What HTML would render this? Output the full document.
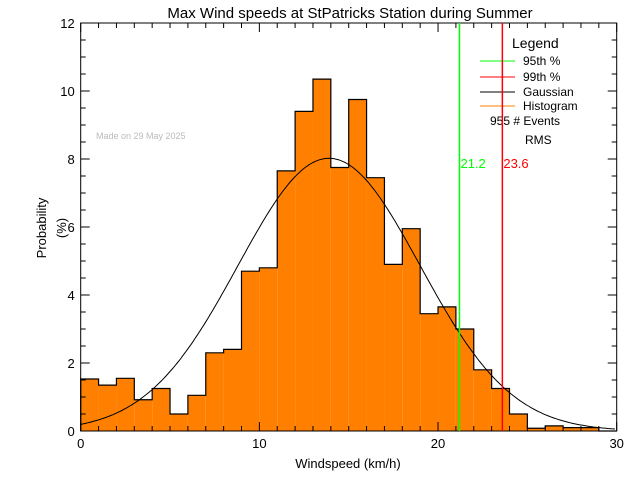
<!DOCTYPE html>
<html><head><meta charset="utf-8"><style>
html,body{margin:0;padding:0;background:#fff}
svg{display:block;font-family:"Liberation Sans",sans-serif}
</style></head><body>
<svg id="c" width="640" height="480" xmlns="http://www.w3.org/2000/svg">
<rect width="640" height="480" fill="#fff"/>
<text x="350" y="18" font-size="15" text-anchor="middle">Max Wind speeds at StPatricks Station during Summer</text>
<g id="bars"></g>
<g id="gauss"></g>
<g id="axes"></g>
<text x="96" y="139" font-size="9" fill="#bbb">Made on 29 May 2025</text>
<text x="348" y="468" font-size="13" text-anchor="middle">Windspeed (km/h)</text>
<text transform="translate(46,228) rotate(-90)" font-size="13" text-anchor="middle">Probability</text>
<text transform="translate(66,228) rotate(-90)" font-size="13" text-anchor="middle">(%)</text>
<g>
<text x="512" y="48" font-size="14">Legend</text>
<line x1="480" y1="61" x2="515" y2="61" stroke="#0f0"/>
<text x="523" y="65" font-size="12">95th %</text>
<line x1="480" y1="77" x2="515" y2="77" stroke="#f00"/>
<text x="523" y="81" font-size="12">99th %</text>
<line x1="480" y1="92" x2="515" y2="92" stroke="#000"/>
<text x="523" y="96" font-size="12">Gaussian</text>
<line x1="480" y1="106" x2="515" y2="106" stroke="#ff8000"/>
<text x="523" y="110" font-size="12">Histogram</text>
<text x="490" y="125" font-size="12">955  # Events</text>
<text x="525" y="144" font-size="12">RMS</text>
</g>
<g id="pct"></g>
</svg>
<script>
const binStarts=[0,1,2,3,4,5,6,7,8,9,10,11,12,13,14,15,16,17,18,19,20,21,22,23,24,25,26,27,28,29];
const probs=[1.53,1.35,1.55,0.92,1.25,0.5,1.05,2.3,2.4,4.7,4.8,7.65,9.4,10.35,7.75,9.75,7.45,4.9,5.95,3.45,3.65,3.0,1.8,1.25,0.5,0.08,0.15,0.1,0.1,0];
const gaussMean=13.9, gaussSigma=5.1, gaussAmp=8.02;
const p95=21.2, p99=23.6;
const xTicks=[0,10,20,30];
const yTicks=[0,2,4,6,8,10,12];
const X0=80.7,X1=616.7,Y0=431,Y1=23,XMAX=30,YMAX=12;
const sx=v=>X0+(X1-X0)*v/XMAX, sy=v=>Y0-(Y0-Y1)*v/YMAX;
const NS="http://www.w3.org/2000/svg";
function mk(t,a,p){const e=document.createElementNS(NS,t);for(const k in a)e.setAttribute(k,a[k]);p.appendChild(e);return e;}
const bars=document.getElementById('bars');
let d=`M${sx(0)},${sy(0)}`;
binStarts.forEach((b,i)=>{
 const r=mk('rect',{x:sx(b),y:sy(probs[i]),width:sx(b+1)-sx(b),height:sy(0)-sy(probs[i]),fill:'#ff8000'},bars);
 
 
 d+=` L${sx(b)},${sy(probs[i])} L${sx(b+1)},${sy(probs[i])}`;
});
d+=` L${sx(30)},${sy(0)}`;
const outl=mk('path',{d:d,fill:'none',stroke:'#000','stroke-width':1.2},bars);


let g='';
for(let x=0;x<=30;x+=0.1){const y=gaussAmp*Math.exp(-((x-gaussMean)**2)/(2*gaussSigma**2));g+=(g?' L':'M')+sx(x).toFixed(1)+','+sy(y).toFixed(1);}
const gp=mk('path',{d:g,fill:'none',stroke:'#000','stroke-width':1},document.getElementById('gauss'));


const pct=document.getElementById('pct');
[[p95,'#0f0'],[p99,'#f00']].forEach(([v,c],i)=>{
 const l=mk('line',{x1:sx(v),x2:sx(v),y1:Y1,y2:Y0,stroke:c,'stroke-width':1.5},pct);
 
 
 const t=mk('text',{x:sx(v)+1,y:168,fill:c,'font-size':13},pct);
 t.textContent=v.toFixed(1);
 
 
});
const ax=document.getElementById('axes');
const fr=mk('rect',{x:X0,y:Y1,width:X1-X0,height:Y0-Y1,fill:'none',stroke:'#000','stroke-width':1},ax);


for(let v=0;v<=30;v++){const L=v%10==0?9:5;
 mk('line',{x1:sx(v),x2:sx(v),y1:Y0,y2:Y0-L,stroke:'#000'},ax);
 mk('line',{x1:sx(v),x2:sx(v),y1:Y1,y2:Y1+L,stroke:'#000'},ax);}
for(let v=0;v<=12;v+=0.5){const L=v%2==0?9:5;
 mk('line',{x1:X0,x2:X0+L,y1:sy(v),y2:sy(v),stroke:'#000'},ax);
 mk('line',{x1:X1,x2:X1-L,y1:sy(v),y2:sy(v),stroke:'#000'},ax);}
xTicks.forEach(v=>{const t=mk('text',{x:sx(v),y:Y0+17,'font-size':13,'text-anchor':'middle'},ax);t.textContent=v;
 
 });
yTicks.forEach(v=>{const t=mk('text',{x:X0-6,y:sy(v)+5,'font-size':13,'text-anchor':'end'},ax);t.textContent=v;
 
 });
</script>
</body></html>
